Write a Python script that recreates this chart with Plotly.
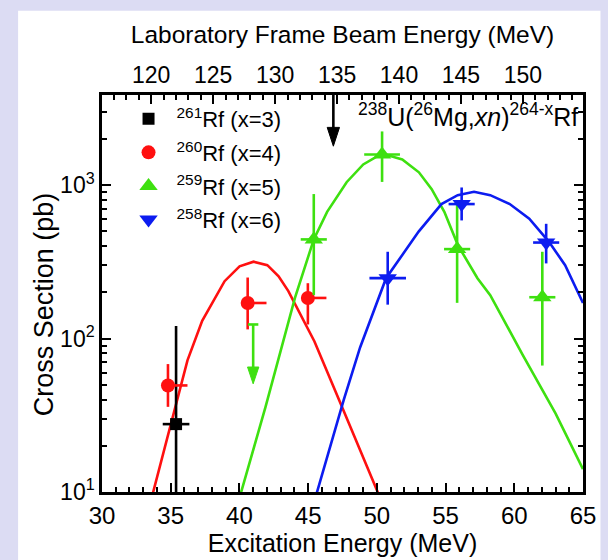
import math
import plotly.graph_objects as go

# ---------------- data (excitation energy in MeV, cross section in pb) ----------------
rf261_E = [35.39]
rf261_sigma = [27.7]
rf261_sigma_hi = [121.0]
rf261_sigma_lo = [1.0]
rf261_dE = [0.97]

rf260_E = [34.80, 40.60, 44.98]
rf260_sigma = [49.5, 170.6, 184.0]
rf260_sigma_hi = [68.2, 250.0, 229.6]
rf260_sigma_lo = [35.9, 114.8, 123.6]
rf260_dE_minus = [0.40, 0.38, 0.40]
rf260_dE_plus = [1.42, 1.37, 1.35]

rf259_E = [45.41, 50.38, 55.84, 62.04]
rf259_sigma = [443.0, 1585.0, 383.0, 186.0]
rf259_sigma_hi = [875.0, 2240.0, 753.0, 368.0]
rf259_sigma_lo = [192.0, 1050.0, 171.0, 66.7]
rf259_dE = [0.95, 1.30, 0.95, 0.95]

# 259Rf upper limit
rf259_limit_E = [41.0]
rf259_limit_sigma = [123.6]
rf259_limit_tip = [50.7]

rf258_E = [50.79, 56.17, 62.32]
rf258_sigma = [247.6, 753.0, 422.7]
rf258_sigma_hi = [368.0, 966.0, 560.0]
rf258_sigma_lo = [166.4, 589.0, 309.0]
rf258_dE = [1.33, 0.95, 0.95]

# fitted excitation functions
fit260_E = [33.70, 35.29, 36.22, 37.29, 38.12, 38.92, 40.01, 41.03, 42.03, 42.85, 43.56, 45.46, 47.36, 50.08]
fit260_sigma = [9.8, 34.3, 72.1, 130.6, 175.8, 236.6, 295.8, 317.0, 301.0, 254.6, 204.0, 95.7, 37.7, 9.9]

fit259_E = [40.10, 41.90, 44.04, 45.41, 46.38, 47.80, 49.01, 50.36, 51.85, 53.06, 53.99, 54.91, 55.91, 57.32, 58.25, 60.59, 63.01, 65.00]
fit259_sigma = [9.8, 35.9, 184.0, 443.0, 670.0, 1045.0, 1365.0, 1607.0, 1472.0, 1213.0, 942.0, 670.0, 404.0, 247.6, 192.0, 78.9, 32.4, 14.1]

fit258_E = [45.62, 47.59, 48.78, 50.67, 51.85, 53.04, 54.70, 55.88, 57.07, 58.25, 59.67, 61.09, 62.51, 63.70, 65.00]
fit258_sigma = [9.8, 39.8, 87.5, 247.6, 350.0, 498.0, 753.0, 861.0, 905.0, 861.0, 753.0, 604.0, 429.0, 301.0, 170.6]

# arrow marking a laboratory beam energy
arrow_lab_E = 134.7
arrow_tip_sigma = 1795.0

# axes
x_range = [30, 65]
y_decades = [10, 100, 1000]
y_ticktext = ["10<sup>1</sup>", "10<sup>2</sup>", "10<sup>3</sup>"]
y_top = 3870.0
lab_ticks = [120, 125, 130, 135, 140, 145, 150]
cm_factor = 238.0 / 264.0
e_offset = -74.6   # E* = cm_factor * E_lab + e_offset


def lab_to_ex(e):
    return cm_factor * e + e_offset


def ex_to_lab(e):
    return (e - e_offset) / cm_factor


RED = "#ff1010"
GREEN = "#3ee010"
BLUE = "#0c1cf0"
BLACK = "#000000"
FONT = "Liberation Sans, Arial, Helvetica, sans-serif"
LW = 2.6

# page geometry
L, R, T, B = 102, 13, 95, 64
W, H = 608, 560
pw, ph = W - L - R, H - T - B
px_per_MeV = pw / (x_range[1] - x_range[0])
px_per_dec = ph / (math.log10(y_top) - 1)

fig = go.Figure()

# curves
for xs, ys, col in [(fit260_E, fit260_sigma, RED), (fit259_E, fit259_sigma, GREEN), (fit258_E, fit258_sigma, BLUE)]:
    fig.add_trace(go.Scatter(x=xs, y=ys, mode="lines", line=dict(color=col, width=LW),
                             showlegend=False, hoverinfo="skip"))


def pts(E, s, hi, lo, dEp, dEm, col, sym, size, name, grp):
    return go.Scatter(
        x=E, y=s, mode="markers", name=name, legendgroup=grp,
        marker=dict(symbol=sym, color=col, size=size, line=dict(width=0)),
        error_y=dict(type="data", symmetric=False,
                     array=[h - v for h, v in zip(hi, s)],
                     arrayminus=[v - l for v, l in zip(s, lo)],
                     color=col, thickness=LW, width=0),
        error_x=dict(type="data", symmetric=False, array=dEp, arrayminus=dEm,
                     color=col, thickness=LW, width=0),
    )


fig.add_trace(pts(rf261_E, rf261_sigma, rf261_sigma_hi, rf261_sigma_lo, rf261_dE, rf261_dE,
                  BLACK, "square", 12, "<sup>261</sup>Rf (x=3)", "a"))
fig.add_trace(pts(rf260_E, rf260_sigma, rf260_sigma_hi, rf260_sigma_lo, rf260_dE_plus, rf260_dE_minus,
                  RED, "circle", 14, "<sup>260</sup>Rf (x=4)", "b"))
fig.add_trace(pts(rf259_E, rf259_sigma, rf259_sigma_hi, rf259_sigma_lo, rf259_dE, rf259_dE,
                  GREEN, "triangle-up", 16, "<sup>259</sup>Rf (x=5)", "c"))
fig.add_trace(pts(rf258_E, rf258_sigma, rf258_sigma_hi, rf258_sigma_lo, rf258_dE, rf258_dE,
                  BLUE, "triangle-down", 16, "<sup>258</sup>Rf (x=6)", "d"))


def arrow_head(E, tip, half_w_px, len_px, col):
    """filled downward arrowhead whose tip sits at (E, tip)"""
    dx = half_w_px / px_per_MeV
    base = tip * 10 ** (len_px / px_per_dec)
    return go.Scatter(x=[E - dx, E + dx, E, E - dx], y=[base, base, tip, base],
                      mode="lines", fill="toself", fillcolor=col,
                      line=dict(color=col, width=1), showlegend=False, hoverinfo="skip")


# upper limit for 259Rf: cap + shaft + head
for E, cap, tip in zip(rf259_limit_E, rf259_limit_sigma, rf259_limit_tip):
    fig.add_trace(go.Scatter(x=[E - 5.3 / px_per_MeV, E + 5.3 / px_per_MeV], y=[cap, cap], mode="lines",
                             line=dict(color=GREEN, width=LW), showlegend=False, hoverinfo="skip"))
    fig.add_trace(go.Scatter(x=[E, E], y=[cap, tip * 10 ** (10 / px_per_dec)], mode="lines",
                             line=dict(color=GREEN, width=LW), showlegend=False, hoverinfo="skip"))
    fig.add_trace(arrow_head(E, tip, 5.8, 17, GREEN))

# black arrow from the top of the frame
arrow_x = lab_to_ex(arrow_lab_E)
fig.add_trace(go.Scatter(x=[arrow_x, arrow_x], y=[y_top, arrow_tip_sigma * 10 ** (12 / px_per_dec)],
                         mode="lines", line=dict(color=BLACK, width=LW), showlegend=False, hoverinfo="skip"))
fig.add_trace(arrow_head(arrow_x, arrow_tip_sigma, 6.3, 19, BLACK))

# white panel on lavender page
shapes = [dict(type="rect", xref="paper", yref="paper", layer="below",
               x0=(16 - L) / pw, x1=(W - L) / pw + 0.01,
               y0=-(B + 5) / ph, y1=(ph + T - 10) / ph,
               fillcolor="white", line=dict(width=0))]

# invisible trace establishing the top axis
fig.add_trace(go.Scatter(x=[ex_to_lab(47)], y=[100], xaxis="x2", mode="markers",
                         marker=dict(opacity=0), showlegend=False, hoverinfo="skip"))

fig.update_layout(
    width=W, height=H,
    margin=dict(l=L, r=R, t=T, b=B),
    paper_bgcolor="#dcdcf3",
    plot_bgcolor="white",
    font=dict(family=FONT, color="black", size=22),
    shapes=shapes,
    xaxis=dict(range=x_range, tick0=30, dtick=5, ticks="inside", ticklen=9, tickwidth=2,
               tickcolor="black", showline=True, linewidth=2.5, linecolor="black",
               mirror=False, showgrid=False, zeroline=False,
               tickfont=dict(size=24),
               minor=dict(dtick=1, ticks="inside", ticklen=5, tickwidth=2, tickcolor="black", showgrid=False),
               title=dict(text="Excitation Energy (MeV)", font=dict(size=25), standoff=2)),
    xaxis2=dict(overlaying="x", side="top", anchor="y",
                range=[ex_to_lab(x_range[0]), ex_to_lab(x_range[1])],
                tickvals=lab_ticks, ticks="inside", ticklen=9, tickwidth=2, tickcolor="black",
                showline=True, linewidth=2.5, linecolor="black", showgrid=False, zeroline=False,
                tickfont=dict(size=23),
                minor=dict(dtick=1, ticks="inside", ticklen=5, tickwidth=2, tickcolor="black", showgrid=False),
                title=dict(text="Laboratory Frame Beam Energy (MeV)", font=dict(size=24.5), standoff=12)),
    yaxis=dict(type="log", range=[1, math.log10(y_top)],
               tickvals=y_decades, ticktext=y_ticktext, ticks="inside", ticklen=9, tickwidth=2,
               tickcolor="black", showline=True, linewidth=2.5, linecolor="black",
               mirror="ticks", showgrid=False, zeroline=False,
               tickfont=dict(size=23),
               minor=dict(tickvals=[m * d for d in y_decades for m in range(2, 10)],
                          ticks="inside", ticklen=5, tickwidth=2, tickcolor="black", showgrid=False)),
    legend=dict(x=(121 - L) / pw, y=(H - B - 98) / ph, xanchor="left", yanchor="top",
                bgcolor="rgba(0,0,0,0)", font=dict(size=22), itemwidth=46,
                tracegroupgap=2),
    annotations=[
        dict(text="<sup>238</sup>U(<sup>26</sup>Mg,<i>xn</i>)<sup>264-x</sup>Rf",
             xref="paper", yref="paper", x=(362 - L) / pw, y=(H - B - 115) / ph,
             xanchor="left", yanchor="middle", showarrow=False, font=dict(size=25)),
        dict(text="Cross Section (pb)", textangle=-90,
             xref="paper", yref="paper", x=(42 - L) / pw, y=(H - B - 306) / ph,
             xanchor="center", yanchor="middle", showarrow=False, font=dict(size=27)),
    ],
)

fig.write_html("out.html")
